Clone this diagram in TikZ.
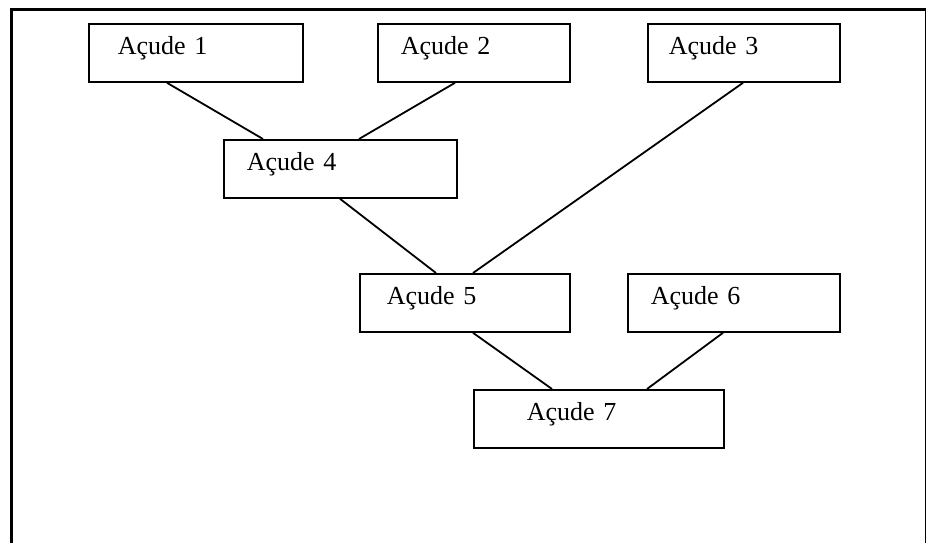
\documentclass[tikz,border=0pt]{standalone}
\usepackage{fontspec}
\setmainfont{Liberation Serif}
\usepackage{tikz}
\usetikzlibrary{positioning}
\tikzset{
  acude/.style = {rectangle, draw=black, line width=1.8pt, anchor=north west,
    align=left, inner ysep=0pt, minimum height=58pt, text height=18pt,
    text depth=14pt, font=\fontsize{26}{30}\selectfont},% caixa do acude
  liga/.style = {draw=black, line width=1.8pt},% ligacao entre acudes
  moldura/.style = {draw=black, line width=3pt}
}

\begin{document}
\begin{tikzpicture}[x=1pt,y=-1pt]
\useasboundingbox (0,0) rectangle (926,543);
\draw[moldura] (11,543) -- (11,10) -- (926,10) -- (926,543);

\node [acude, inner xsep=29pt, text width=156pt] (a1) at (88,23) {Açude 1};
\node [acude, inner xsep=23pt, text width=146pt] (a2) at (377,23) {Açude 2};
\node [acude, inner xsep=21pt, text width=150pt] (a3) at (647,23) {Açude 3};
\node [acude, inner xsep=23pt, text width=187pt] (a4) at (223,139) {Açude 4};
\node [acude, inner xsep=27pt, text width=156pt] (a5) at (359,273) {Açude 5};
\node [acude, inner xsep=23pt, text width=166pt] (a6) at (627,273) {Açude 6};
\node [acude, inner xsep=53pt, text width=144pt] (a7) at (473,389) {Açude 7};

\draw[liga] ([xshift=79pt]a1.south west) -- ([xshift=40pt]a4.north west);
\draw[liga] ([xshift=78pt]a2.south west) -- ([xshift=136pt]a4.north west);
\draw[liga] ([xshift=96pt]a3.south west) -- ([xshift=114pt]a5.north west);
\draw[liga] ([xshift=117pt]a4.south west) -- ([xshift=77pt]a5.north west);
\draw[liga] ([xshift=114pt]a5.south west) -- ([xshift=79pt]a7.north west);
\draw[liga] ([xshift=96pt]a6.south west) -- ([xshift=174pt]a7.north west);
%\draw[liga] (a6.south) -- (a7.north);
\end{tikzpicture}
\end{document}
